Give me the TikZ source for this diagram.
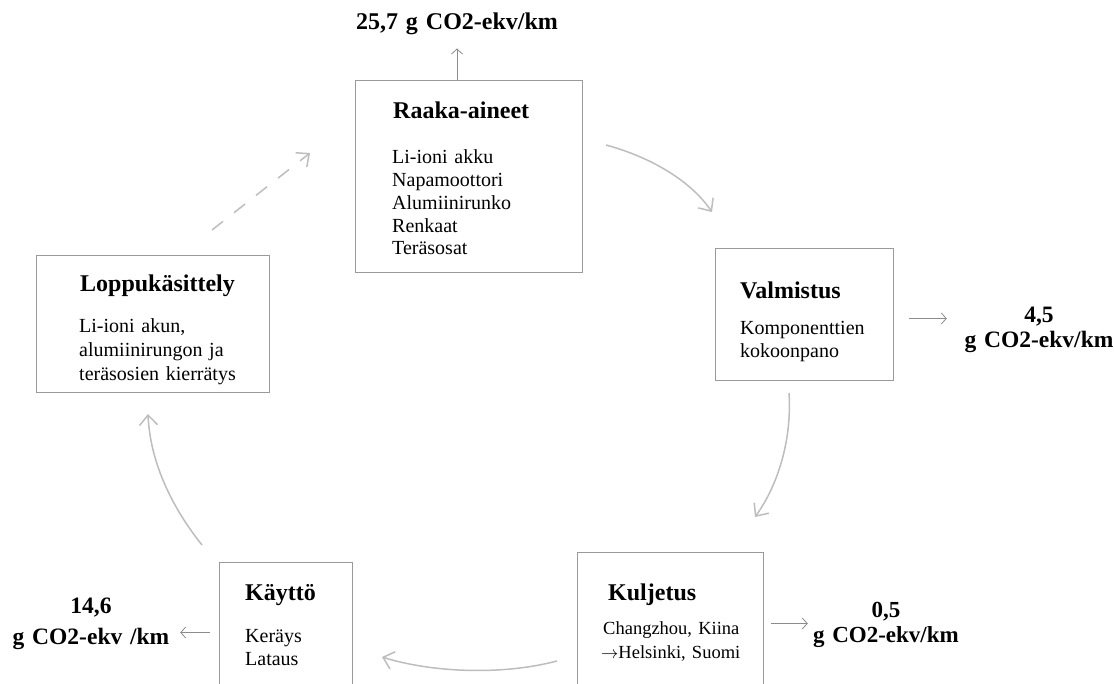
\documentclass[tikz,border=0pt]{standalone}
\usepackage{fontspec}
\setmainfont{Liberation Serif}
\usetikzlibrary{arrows.meta}

\definecolor{boxgray}{HTML}{9A9A9A}
\definecolor{cyclegray}{HTML}{BDBDBD}
\definecolor{arrowgray}{HTML}{8C8C8C}

\begin{document}
\begin{tikzpicture}[
        x=1pt, y=-1pt,
        stage/.style={draw=boxgray,line width=1pt,anchor=north west,inner sep=0pt},
        title/.style={anchor=base west,inner sep=0pt,font=\fontsize{24}{28}\selectfont\bfseries},
        body/.style={anchor=base west,inner sep=0pt,text width=200pt,align=left,
            font=\fontsize{20}{#1}\selectfont},
        body/.default=22.75,
        emission/.style={anchor=base,inner sep=0pt,text width=#1,align=center,
            font=\fontsize{23.5}{24.5}\selectfont\bfseries},
        emission/.default=150pt,
        outarrow/.style={draw=arrowgray,line width=0.8pt,-{Straight Barb[length=5pt,width=11pt]}},
        cyclearrow/.style={draw=cyclegray,line width=1.5pt,-{Straight Barb[length=10pt,width=18pt]}}
    ]
        \useasboundingbox (0,0) rectangle (1114,684);
        \coordinate (pagebottom) at (0,684);

        \node [stage,minimum width=227pt,minimum height=192pt] (raaka) at (355,80) {};
        \node [stage,minimum width=178pt,minimum height=132pt] (valm) at (715,248) {};
        \node [stage,minimum width=233pt,minimum height=137pt] (loppu) at (36,255) {};
        \node [stage,draw=none,minimum width=185pt,minimum height=142pt] (kulj) at (577,552) {};
        \node [stage,draw=none,minimum width=132pt,minimum height=140pt] (kaytto) at (219,562) {};
        \draw [boxgray,line width=1pt] (kulj.west |- pagebottom) |- (kulj.north east) -- (kulj.east |- pagebottom);
        \draw [boxgray,line width=1pt] (kaytto.west |- pagebottom) |- (kaytto.north east) -- (kaytto.east |- pagebottom);

        \node [title] (raakatitle) at (393,119) {Raaka-aineet};
        \node [body] (raakabody) at (392,164) {Li-ioni akku\\Napamoottori\\Alumiinirunko\\Renkaat\\Teräsosat};
        \node [title] (valmtitle) at (740,299) {Valmistus};
        \node [body] (valmbody) at (740,335) {Komponenttien\\kokoonpano};
        \node [title] (kultitle) at (608,600) {Kuljetus};
        \node [body,font=\fontsize{18.5}{24}\selectfont] (kulbody) at (603,634) {Changzhou, Kiina\\\hspace*{-2pt}$\rightarrow$Helsinki, Suomi};
        \node [title] (kayttitle) at (245,600) {Käyttö};
        \node [body=23] (kaytbody) at (245,642) {Keräys\\Lataus};
        \node [title] (lopputitle) at (80,292) {Loppukäsittely};
        \node [body=24] (loppubody) at (79,333) {Li-ioni akun,\\alumiinirungon ja\\teräsosien kierrätys};

        \node [emission=240pt,font=\fontsize{24}{28}\selectfont\bfseries] (co2raaka) at (457,30) {25,7 g CO2-ekv/km};
        \node [emission] (co2valm) at (1039,323) {4,5\\g CO2-ekv/km};
        \node [emission,font=\fontsize{23}{25}\selectfont\bfseries] (co2kulj) at (886,617) {0,5\\g CO2-ekv/km};
        \node [emission=160pt] (co2kaytto) at (91,613) {14,6\\[7pt]g CO2-ekv /km};

        \draw [outarrow,shorten >=13pt] (raaka.north -| co2raaka.south) -- (co2raaka.south);
        \draw [outarrow,shorten <=15pt,shorten >=17pt] ([yshift=-4pt]valm.east) -- ([yshift=-4pt]valm.east -| co2valm.west);
        \draw [outarrow,shorten <=8pt,shorten >=3pt] (kulj.east) -- (kulj.east -| co2kulj.west);
        \draw [outarrow,shorten <=9pt,shorten >=9pt] (kaytto.west) -- (kaytto.west -| co2kaytto.east);

        \coordinate (rv1) at (606,145);
        \coordinate (rv2) at (712,212);
        \coordinate (vk1) at (789,393);
        \coordinate (vk2) at (755,517);
        \coordinate (kk1) at (557,661);
        \coordinate (kk2) at (382,657);
        \coordinate (kl1) at (202,545);
        \coordinate (kl2) at (148,414);
        \coordinate (lr1) at (212,230);
        \coordinate (lr2) at (310,153);

        \draw [cyclearrow] (rv1) .. controls (650,157) and (690,180) .. (rv2);
        \draw [cyclearrow] (vk1) .. controls (792,440) and (778,485) .. (vk2);
        \draw [cyclearrow] (kk1) .. controls (500,676) and (430,672) .. (kk2);
        \draw [cyclearrow] (kl1) .. controls (170,505) and (150,460) .. (kl2);
        \draw [cyclearrow,dash pattern=on 14pt off 14pt] (lr1) -- (lr2);
    \end{tikzpicture}
\end{document}
